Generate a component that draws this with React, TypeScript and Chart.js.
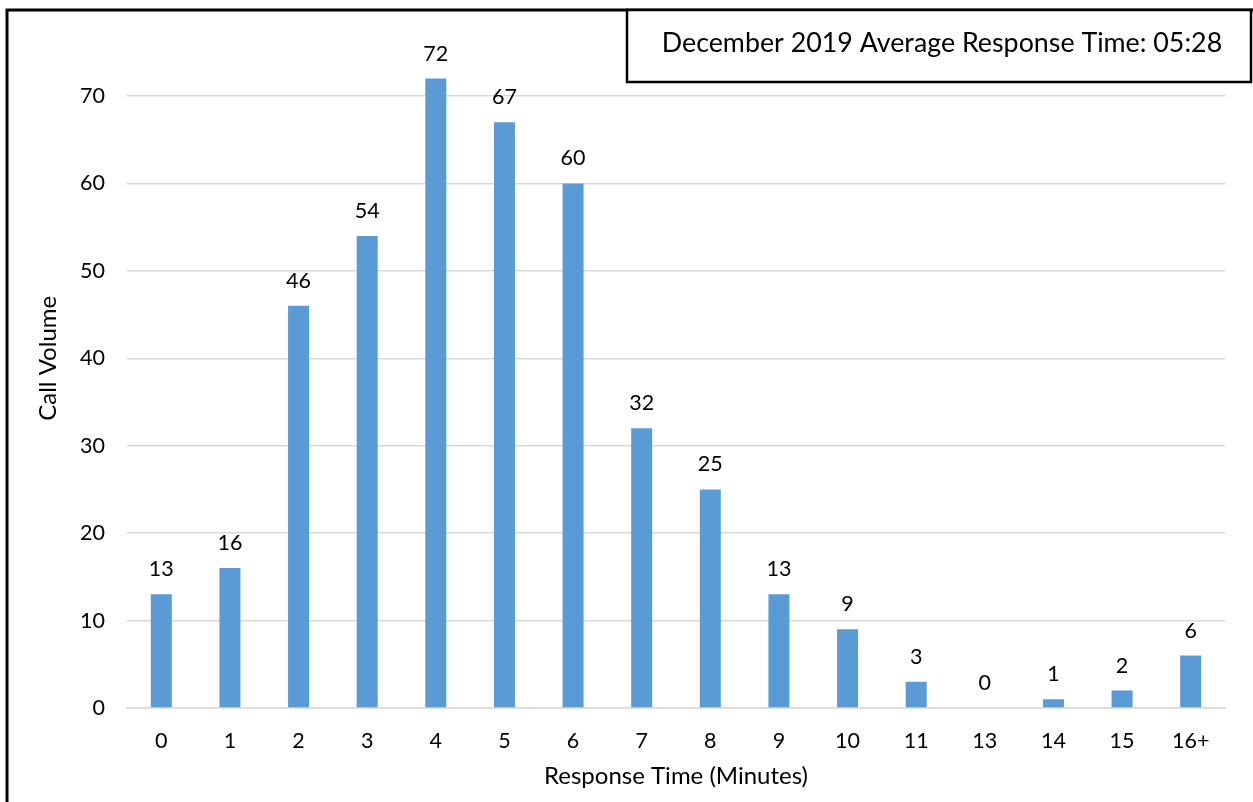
import React, { useEffect, useRef } from "react";
import { Chart, registerables } from "chart.js";

Chart.register(...registerables);

const categories = ["0", "1", "2", "3", "4", "5", "6", "7", "8", "9", "10", "11", "13", "14", "15", "16+"];
const callVolume = [13, 16, 46, 54, 72, 67, 60, 32, 25, 13, 9, 3, 0, 1, 2, 6];
const yTicks = [0, 10, 20, 30, 40, 50, 60, 70];
const boxTitle = "December 2019 Average Response Time: 05:28";
const xTitle = "Response Time (Minutes)";
const yTitle = "Call Volume";

const FONT = "Lato";
const W = 1253;
const H = 802;

const decorPlugin = {
  id: "decor",
  afterDatasetsDraw(chart: any) {
    const ctx = chart.ctx;
    const meta = chart.getDatasetMeta(0);
    ctx.save();
    ctx.fillStyle = "#000000";
    ctx.font = `21.5px ${FONT}`;
    ctx.textAlign = "center";
    ctx.textBaseline = "alphabetic";
    meta.data.forEach((bar: any, i: number) => {
      ctx.fillText(String(callVolume[i]), bar.x, bar.y - 18);
    });
    ctx.restore();
  },
  afterDraw(chart: any) {
    const ctx = chart.ctx;
    ctx.save();
    // outer frame
    ctx.strokeStyle = "#000000";
    ctx.lineWidth = 3;
    ctx.beginPath();
    ctx.moveTo(7, H + 5);
    ctx.lineTo(7, 10);
    ctx.lineTo(W + 5, 10);
    ctx.stroke();
    // title box
    ctx.fillStyle = "#ffffff";
    ctx.fillRect(627, 10, 624, 72);
    ctx.lineWidth = 2.5;
    ctx.strokeRect(627, 10, 624, 72);
    ctx.fillStyle = "#000000";
    ctx.font = `26.8px ${FONT}`;
    ctx.textAlign = "center";
    ctx.textBaseline = "middle";
    ctx.fillText(boxTitle, 942, 43);
    ctx.restore();
  },
};

export default function App() {
  const ref = useRef<HTMLCanvasElement>(null);
  useEffect(() => {
    document.body.style.margin = "0";
    const chart = new Chart(ref.current!, {
      type: "bar",
      data: {
        labels: categories,
        datasets: [
          {
            data: callVolume,
            backgroundColor: "#5B9BD5",
            barPercentage: 0.306,
            categoryPercentage: 1,
          },
        ],
      },
      options: {
        animation: false,
        responsive: false,
        layout: { padding: { left: 0, right: 28, top: 8.6, bottom: 0 } },
        plugins: { legend: { display: false }, tooltip: { enabled: false } },
        scales: {
          x: {
            grid: { display: false, drawTicks: false },
            border: { display: true, color: "#D9D9D9", width: 1.5 },
            ticks: { color: "#000000", font: { family: FONT, size: 21.5 }, padding: 20, maxRotation: 0 },
            title: {
              display: true,
              text: xTitle,
              color: "#000000",
              font: { family: FONT, size: 24 },
              padding: { top: 0, bottom: 11.6 },
            },
            afterFit: (s: any) => {
              s.height = 94;
              s.paddingLeft = 0;
              s.paddingRight = 0;
            },
          },
          y: {
            min: 0,
            max: 80,
            afterBuildTicks: (s: any) => {
              s.ticks = yTicks.map((v) => ({ value: v }));
            },
            grid: { color: "#D9D9D9", lineWidth: 1.5, drawTicks: false },
            border: { display: false },
            ticks: {
              color: "#000000",
              font: { family: FONT, size: 21.5 },
              padding: 22,
            },
            title: {
              display: true,
              text: yTitle,
              color: "#000000",
              font: { family: FONT, size: 24 },
              padding: { top: 33.6, bottom: 0 },
            },
            afterFit: (s: any) => {
              s.width = 127;
              s.paddingTop = 0;
              s.paddingBottom = 0;
            },
          },
        },
      },
      plugins: [decorPlugin],
    });
    return () => chart.destroy();
  }, []);
  return <canvas ref={ref} width={W} height={H} style={{ display: "block" }} />;
}
